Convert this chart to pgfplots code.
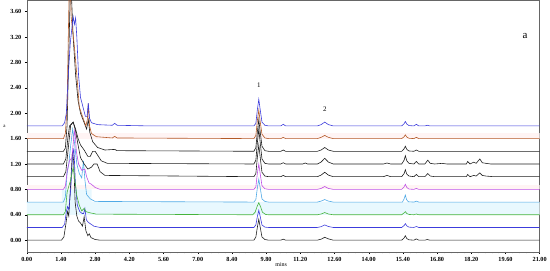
\documentclass[border=0pt]{standalone}
\usepackage{fontspec}
\setmainfont{Liberation Serif}
\usepackage{pgfplots}
\pgfplotsset{compat=1.18}
\usepackage{pgfplotstable}

\definecolor{tblue}{RGB}{60,60,220}
\definecolor{tbrown}{RGB}{180,90,40}
\definecolor{tblack}{RGB}{30,30,30}
\definecolor{tmag}{RGB}{190,80,230}
\definecolor{tcyan}{RGB}{80,170,230}
\definecolor{tgreen}{RGB}{70,180,60}

% heights above each trace's own baseline
\pgfplotstableread{
x y
0 0
1.45 0
1.55 0.05
1.62 0.2
1.70 0.8
1.78 1.3
1.85 1.55
1.90 1.72
1.95 1.6
2.00 1.7
2.05 1.4
2.12 0.8
2.20 0.45
2.30 0.3
2.40 0.15
2.47 0.15
2.52 0.36
2.57 0.12
2.65 0.05
2.90 0.02
3.50 0.01
3.60 0.04
3.70 0.01
5.00 0
9.30 0
9.38 0.04
9.44 0.25
9.50 0.42
9.56 0.25
9.63 0.06
9.75 0.01
9.90 0
10.40 0
10.50 0.025
10.60 0
11.90 0
12.05 0.02
12.20 0.06
12.35 0.02
12.55 0
15.35 0
15.45 0.035
15.50 0.07
15.56 0.03
15.65 0.005
15.85 0
15.95 0.025
16.05 0
16.30 0
16.40 0.01
16.50 0
21 0
}\tnine

\pgfplotstableread{
x y
0 0
1.50 0
1.58 0.08
1.65 0.5
1.70 1.6
1.74 2.4
1.78 2.5
1.82 1.9
1.88 1.7
1.95 1.45
2.05 1.0
2.15 0.5
2.28 0.35
2.42 0.2
2.48 0.3
2.52 0.55
2.57 0.2
2.65 0.08
2.85 0.03
3.50 0.01
3.60 0.035
3.70 0.01
9.30 0
9.38 0.05
9.44 0.28
9.50 0.45
9.56 0.26
9.63 0.07
9.75 0.01
9.90 0
10.40 0
10.50 0.02
10.60 0
11.90 0
12.05 0.02
12.20 0.05
12.35 0.02
12.55 0
15.35 0
15.45 0.03
15.50 0.06
15.56 0.025
15.65 0.005
15.85 0
15.95 0.02
16.05 0
21 0
}\teight

\pgfplotstableread{
x y
0 0
1.50 0
1.58 0.05
1.65 0.4
1.72 1.5
1.78 2.5
1.83 2.45
1.90 1.8
2.00 1.2
2.10 0.8
2.20 0.6
2.35 0.45
2.45 0.35
2.52 0.5
2.58 0.3
2.70 0.15
2.90 0.06
3.20 0.02
3.60 0.03
3.70 0.01
9.30 0
9.38 0.06
9.44 0.3
9.50 0.5
9.56 0.3
9.63 0.08
9.75 0.01
9.90 0
10.40 0
10.50 0.02
10.60 0
11.90 0
12.05 0.02
12.20 0.06
12.35 0.02
12.55 0
15.35 0
15.45 0.04
15.50 0.08
15.56 0.03
15.65 0.005
15.85 0
15.95 0.02
16.05 0
21 0
}\tseven

\pgfplotstableread{
x y
0 0
1.50 0
1.60 0.08
1.68 0.4
1.75 0.6
1.82 0.62
1.90 0.66
2.00 0.55
2.10 0.4
2.20 0.3
2.35 0.22
2.50 0.12
2.60 0.12
2.70 0.2
2.80 0.2
2.90 0.14
3.05 0.05
3.30 0.01
9.30 0
9.38 0.06
9.44 0.33
9.50 0.55
9.56 0.33
9.63 0.08
9.75 0.01
9.90 0
10.40 0
10.50 0.02
10.60 0
11.30 0
11.40 0.015
11.50 0
11.90 0
12.05 0.03
12.20 0.09
12.35 0.03
12.55 0
14.60 0
14.75 0.015
14.90 0
15.35 0
15.45 0.06
15.50 0.13
15.56 0.05
15.65 0.01
15.85 0
15.95 0.04
16.05 0
16.30 0
16.42 0.06
16.52 0.01
16.70 0
17.00 0.01
17.20 0
18.00 0
18.05 0.04
18.15 0
18.30 0.03
18.40 0.01
18.55 0.08
18.65 0.02
18.80 0.01
19.00 0
21 0
}\tsix

\pgfplotstableread{
x y
0 0
1.50 0
1.60 0.08
1.70 0.45
1.80 0.82
1.90 0.86
2.00 0.72
2.10 0.5
2.20 0.3
2.35 0.2
2.50 0.12
2.65 0.15
2.75 0.2
2.88 0.2
3.00 0.08
3.20 0.02
9.30 0
9.38 0.05
9.44 0.3
9.50 0.5
9.56 0.3
9.63 0.07
9.75 0.01
9.90 0
10.40 0
10.50 0.02
10.60 0
11.90 0
12.05 0.025
12.20 0.07
12.35 0.025
12.55 0
14.60 0
14.75 0.02
14.90 0
15.35 0
15.45 0.05
15.50 0.11
15.56 0.04
15.65 0.01
15.85 0
15.95 0.035
16.05 0
16.30 0
16.42 0.05
16.52 0.01
16.70 0
18.00 0
18.05 0.035
18.15 0
18.30 0.02
18.40 0.01
18.55 0.06
18.65 0.02
18.80 0.01
19.10 0
21 0
}\tfive

\pgfplotstableread{
x y
0 0
1.50 0
1.58 0.05
1.66 0.3
1.75 0.45
1.85 0.5
1.92 0.8
1.97 0.95
2.03 0.6
2.12 0.4
2.25 0.3
2.38 0.32
2.45 0.2
2.55 0.1
2.65 0.08
2.80 0.03
3.00 0
9.30 0
9.38 0.04
9.44 0.25
9.50 0.4
9.56 0.24
9.63 0.06
9.75 0.01
9.90 0
11.90 0
12.05 0.015
12.20 0.045
12.35 0.015
12.55 0
15.35 0
15.45 0.04
15.50 0.08
15.56 0.03
15.65 0.005
15.85 0
15.95 0.015
16.05 0
21 0
}\tfour

\pgfplotstableread{
x y
0 0
1.50 0
1.58 0.08
1.65 0.45
1.72 0.6
1.80 0.9
1.88 1.15
1.95 0.95
2.05 0.6
2.15 0.45
2.25 0.38
2.32 0.65
2.38 0.35
2.45 0.12
2.60 0.05
2.80 0.01
9.30 0
9.38 0.04
9.44 0.22
9.50 0.36
9.56 0.22
9.63 0.05
9.75 0.01
9.90 0
11.90 0
12.05 0.015
12.20 0.04
12.35 0.015
12.55 0
15.38 0
15.45 0.05
15.50 0.11
15.55 0.04
15.62 0.005
15.85 0
15.95 0.015
16.05 0
21 0
}\tthree

\pgfplotstableread{
x y
0 0
1.50 0
1.58 0.05
1.65 0.35
1.72 0.45
1.80 0.55
1.90 0.75
1.97 0.55
2.05 0.3
2.15 0.15
2.25 0.06
2.35 0.1
2.42 0.05
2.60 0.03
2.85 0.01
9.25 0
9.35 0.04
9.43 0.13
9.50 0.19
9.57 0.13
9.65 0.04
9.78 0.005
9.90 0
11.90 0
12.05 0.012
12.20 0.035
12.35 0.012
12.55 0
15.35 0
15.45 0.03
15.50 0.05
15.56 0.02
15.65 0.005
15.85 0
15.95 0.012
16.05 0
21 0
}\ttwo

\pgfplotstableread{
x y
0 0
1.45 0
1.55 0.05
1.62 0.25
1.67 0.33
1.72 0.28
1.80 0.6
1.87 1.1
1.93 1.25
1.99 0.7
2.07 0.35
2.17 0.25
2.27 0.22
2.33 0.22
2.38 0.3
2.44 0.12
2.52 0.08
2.60 0.06
2.75 0.02
3.00 0
9.30 0
9.38 0.04
9.44 0.17
9.50 0.27
9.56 0.17
9.63 0.04
9.75 0.005
9.90 0
11.90 0
12.05 0.012
12.20 0.04
12.35 0.015
12.55 0
15.35 0
15.45 0.03
15.50 0.06
15.56 0.025
15.65 0.005
15.85 0
15.95 0.015
16.05 0
21 0
}\tone

\pgfplotstableread{
x y
0 0
1.42 0
1.52 0.05
1.60 0.25
1.67 0.45
1.72 0.38
1.80 0.9
1.87 1.4
1.92 1.25
1.98 0.6
2.05 0.38
2.12 0.3
2.20 0.27
2.28 0.22
2.35 0.37
2.42 0.15
2.50 0.07
2.56 0.1
2.63 0.04
2.80 0.01
3.00 0
9.30 0
9.38 0.05
9.44 0.2
9.50 0.33
9.56 0.2
9.63 0.05
9.75 0.01
9.90 0
10.40 0
10.50 0.015
10.60 0
11.90 0
12.05 0.015
12.20 0.045
12.35 0.02
12.55 0
15.35 0
15.45 0.035
15.50 0.07
15.56 0.025
15.65 0.005
15.85 0
15.95 0.02
16.05 0
16.30 0
16.40 0.01
16.50 0
21 0
}\tzero

\begin{document}
\begin{tikzpicture}
\begin{axis}[
  scale only axis,
  width=515bp, height=253bp,
  xmin=0, xmax=21, ymin=-0.19, ymax=3.78,
  xtick={0,1.4,...,21.01},
  ytick={0,0.4,...,3.61},
  minor x tick num=4,
  tick align=outside,
  tick pos=left,
  major tick length=2pt, minor tick length=1.2pt,
  axis line style={gray!80!black, line width=0.5pt},
  tick style={black, line width=0.4pt},
  /pgf/number format/assume math mode=true,
  xticklabel style={/pgf/number format/.cd, fixed, fixed zerofill, precision=2},
  yticklabel style={/pgf/number format/.cd, fixed, fixed zerofill, precision=2},
  ticklabel style={font=\bfseries\fontsize{6.3}{7}\selectfont},
  xlabel={mins}, xlabel style={font=\fontsize{6}{6}\selectfont, yshift=6pt, xshift=-2pt},
  ylabel={a}, ylabel style={font=\fontsize{5}{5}\selectfont, rotate=-90, xshift=2pt},
  clip=true,
  every axis plot/.append style={line width=0.6pt},
]
% faint bands seen in the original figure
\addplot[draw=none, fill=cyan!9] coordinates {(0,0.4) (21,0.4) (21,0.6) (2.66,0.6) (2.66,0.8) (1.44,0.8) (1.44,0.6) (0,0.6)} -- cycle;
\addplot[draw=none, fill=pink!18] coordinates {(0,0.8) (21,0.8) (21,0.87) (0,0.87)} -- cycle;
\addplot[draw=none, fill=pink!18] coordinates {(0,1.6) (21,1.6) (21,1.69) (0,1.69)} -- cycle;

\addplot[tblack] table[x=x, y expr=\thisrow{y}+0.0] {\tzero};
\addplot[tblue] table[x=x, y expr=\thisrow{y}+0.2] {\tone};
\addplot[tgreen] table[x=x, y expr=\thisrow{y}+0.4] {\ttwo};
\addplot[tcyan] table[x=x, y expr=\thisrow{y}+0.6] {\tthree};
\addplot[tmag] table[x=x, y expr=\thisrow{y}+0.8] {\tfour};
\addplot[tblack] table[x=x, y expr=\thisrow{y}+1.0] {\tfive};
\addplot[tblack] table[x=x, y expr=\thisrow{y}+1.2] {\tsix};
\addplot[tblack] table[x=x, y expr=\thisrow{y}+1.4] {\tseven};
\addplot[tbrown] table[x=x, y expr=\thisrow{y}+1.6] {\teight};
\addplot[tblue] table[x=x, y expr=\thisrow{y}+1.8] {\tnine};

\node[font=\fontsize{7}{7}\selectfont] at (axis cs:9.5,2.44) {1};
\node[font=\fontsize{7}{7}\selectfont] at (axis cs:12.21,2.06) {2};
\node[font=\fontsize{11}{11}\selectfont] at (axis cs:20.4,3.21) {a};
\end{axis}
\end{tikzpicture}
\end{document}
